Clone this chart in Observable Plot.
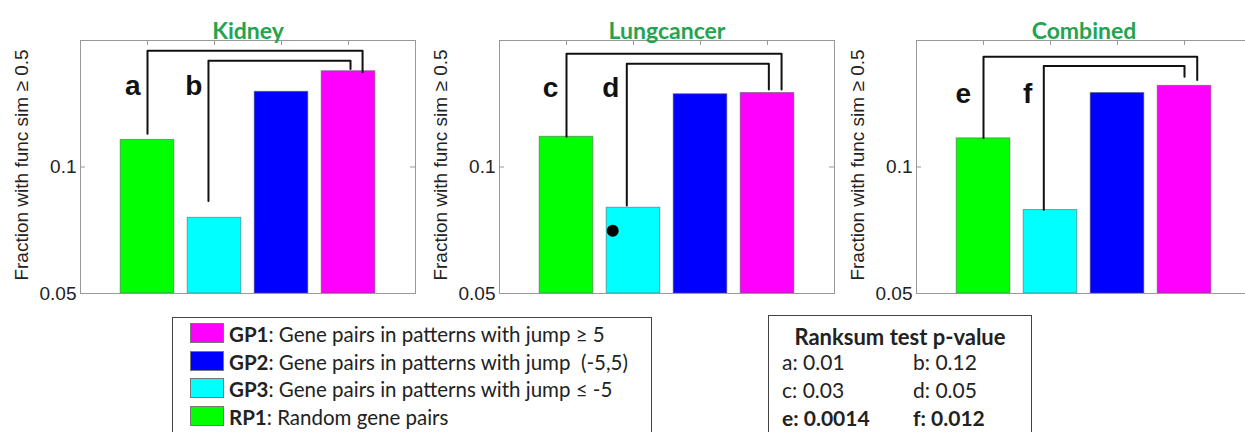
<!DOCTYPE html>
<html><head><meta charset="utf-8">
<script src="https://cdn.jsdelivr.net/npm/d3@7"></script>
<script src="https://cdn.jsdelivr.net/npm/@observablehq/plot@0.6"></script>
<style>
html,body{margin:0;padding:0;background:#fff;}
body{width:1245px;height:432px;overflow:hidden;}
#wrap{position:relative;width:1245px;height:432px;overflow:hidden;}
.panel{position:absolute;top:0;}
.box{position:absolute;border:1.5px solid #444;background:#fff;font-family:Lato,"Open Sans",sans-serif;color:#222;}
.row{position:absolute;left:0;white-space:pre;font-size:20.5px;line-height:22px;}
.sw{position:absolute;width:34px;height:20px;border:1px solid #777;box-sizing:border-box;}
.pv{position:absolute;white-space:pre;font-size:21px;line-height:22px;}
</style></head><body><div id="wrap"></div>
<script>
// ---- data ----
const panelNames = ["Kidney", "Lungcancer", "Combined"];
const groups = ["RP1", "GP3", "GP2", "GP1"];
const groupColors = ["#00ff00", "#00ffff", "#0000ff", "#ff00ff"];
const kidneyValues = [0.116, 0.0757, 0.151, 0.169];
const lungValues = [0.118, 0.080, 0.149, 0.150];
const combinedValues = [0.117, 0.079, 0.150, 0.156];
const panelValues = [kidneyValues, lungValues, combinedValues];
const yTicks = [0.05, 0.1];
const yDomain = [0.05, 0.2];
const yLabel = "Fraction with func sim \u2265 0.5";
// significance brackets: [leftX, rightX, topLevel, leftFoot, rightFoot]
const kidneyBrackets = [[1.0, 4.21, 0.189, 0.120, 0.168], [1.91, 4.03, 0.179, 0.083, 0.171]];
const lungBrackets = [[1.0, 4.21, 0.186, 0.118, 0.153], [1.9, 4.02, 0.176, 0.081, 0.153]];
const combinedBrackets = [[1.0, 4.19, 0.183, 0.117, 0.161], [1.9, 4.0, 0.174, 0.079, 0.164]];
const panelBrackets = [kidneyBrackets, lungBrackets, combinedBrackets];
const bracketLetters = [["a", "b"], ["c", "d"], ["e", "f"]];
const letterX = [[0.78, 1.69], [0.76, 1.66], [0.70, 1.66]];
const letterY = [0.156, 0.154, 0.149];
const blot = [{panel: 1, x: 1.69, y: 0.0705}];
const legendLabels = ["GP1", "GP2", "GP3", "RP1"];
const legendTexts = [": Gene pairs in patterns with jump \u2265 5", ": Gene pairs in patterns with jump  (-5,5)", ": Gene pairs in patterns with jump \u2264 -5", ": Random gene pairs"];
const legendColors = ["#ff00ff", "#0000ff", "#00ffff", "#00ff00"];
const pTitle = "Ranksum test p-value";
const pLetters = ["a", "b", "c", "d", "e", "f"];
const pValues = ["0.01", "0.12", "0.03", "0.05", "0.0014", "0.012"];
const pBold = [false, false, false, false, true, true];

// ---- panels ----
const wrap = document.getElementById("wrap");
const panelLeft = [0, 419, 836];
panelNames.forEach((name, p) => {
  const bars = panelValues[p].map((v, i) => ({x: i + 1, v, color: groupColors[i]}));
  const lines = [];
  panelBrackets[p].forEach((b, k) => {
    lines.push({id: k, x: b[0], y: b[3]}, {id: k, x: b[0], y: b[2]}, {id: k, x: b[1], y: b[2]}, {id: k, x: b[1], y: b[4]});
  });
  const letters = bracketLetters[p].map((t, k) => ({t, x: letterX[p][k], y: letterY[p]}));
  const chart = Plot.plot({
    width: 420, height: 310,
    marginLeft: 80, marginRight: 5, marginTop: 40, marginBottom: 17,
    x: {type: "linear", domain: [0, 5], axis: null},
    y: {type: "log", domain: yDomain, axis: null},
    style: {fontFamily: "'Liberation Sans', Arial, sans-serif", background: "transparent", overflow: "visible"},
    marks: [
      Plot.rectY(bars, {x1: d => d.x - 0.4, x2: d => d.x + 0.4, y1: yDomain[0], y2: "v", fill: "color", stroke: "#555", strokeOpacity: 0.55, strokeWidth: 1}),
      Plot.line(lines, {x: "x", y: "y", z: "id", stroke: "#111", strokeWidth: 2, curve: "linear"}),
      Plot.text(letters, {x: "x", y: "y", text: "t", fontSize: 28, fontWeight: "bold", fill: "#111"}),
      Plot.dot(blot.filter(d => d.panel === p), {x: "x", y: "y", r: 6, fill: "#000"}),
      Plot.frame({stroke: "#999"}),
      Plot.tickY(yTicks, {stroke: "#999", insetRight: 330}),
      Plot.tickY(yTicks, {stroke: "#999", insetLeft: 330}),
      Plot.tickX([1, 2, 3, 4], {stroke: "#999", insetBottom: 248}),
      Plot.axisY(yTicks, {tickSize: 0, tickPadding: 4, tickFormat: d => String(d), fontSize: 19, fill: "#222", label: null}),
      Plot.text([yLabel], {frameAnchor: "left", textAnchor: "middle", rotate: -90, dx: -59, dy: -2, fontSize: 19, fill: "#222"}),
      Plot.text([name], {frameAnchor: "top", dy: -18, fontSize: 23, fontWeight: "bold", fill: "#23a450", fontFamily: "Lato, 'Open Sans', sans-serif"})
    ]
  });
  chart.classList.add("panel");
  chart.style.left = panelLeft[p] + "px";
  wrap.appendChild(chart);
});

// ---- legend box ----
const leg = document.createElement("div");
leg.className = "box";
Object.assign(leg.style, {left: "172px", top: "317px", width: "478px", height: "140px"});
legendLabels.forEach((lab, i) => {
  const sw = document.createElement("div");
  sw.className = "sw";
  Object.assign(sw.style, {left: "17px", top: (5 + i * 27.7) + "px", background: legendColors[i]});
  leg.appendChild(sw);
  const row = document.createElement("div");
  row.className = "row";
  Object.assign(row.style, {left: "56px", top: (5 + i * 27.7) + "px"});
  row.innerHTML = "<b>" + lab + "</b>" + legendTexts[i];
  leg.appendChild(row);
});
wrap.appendChild(leg);

// ---- p-value box ----
const pb = document.createElement("div");
pb.className = "box";
Object.assign(pb.style, {left: "768px", top: "315px", width: "262px", height: "140px"});
const t = document.createElement("div");
t.className = "pv";
Object.assign(t.style, {left: "0", width: "262px", textAlign: "center", top: "10px", fontWeight: "bold", fontSize: "22px"});
t.textContent = pTitle;
pb.appendChild(t);
pLetters.forEach((l, i) => {
  const d = document.createElement("div");
  d.className = "pv";
  const col = i % 2, r = Math.floor(i / 2);
  Object.assign(d.style, {left: (col === 0 ? 13 : 144) + "px", top: (35 + r * 28) + "px", fontWeight: pBold[i] ? "bold" : "normal"});
  d.textContent = l + ": " + pValues[i];
  pb.appendChild(d);
});
wrap.appendChild(pb);
</script></body></html>
